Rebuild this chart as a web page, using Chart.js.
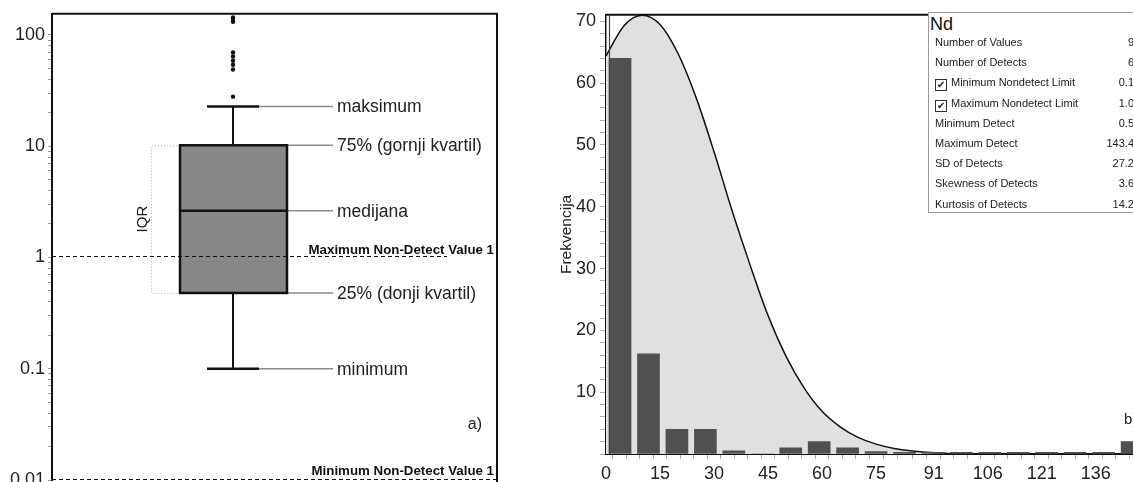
<!DOCTYPE html>
<html>
<head>
<meta charset="utf-8">
<script src="https://cdn.jsdelivr.net/npm/chart.js@4.4.1/dist/chart.umd.min.js"></script>
<style>
    html, body { margin: 0; padding: 0; width: 1133px; height: 482px; overflow: hidden; background: #fff; }
    body { position: relative; font-family: "Liberation Sans", Arial, sans-serif; color: #222; }
    #boxWrap { position: absolute; left: 0; top: 0; width: 515px; height: 500px; }
    #histWrap { position: absolute; left: 540px; top: 0; width: 660px; height: 482px; }
    #stats { position: absolute; left: 928px; top: 12px; width: 260px; height: 199px; border: 1px solid #999; background: #fff; }
    #stats .naslov { font-size: 18px; line-height: 18px; padding: 2px 0 0 1px; height: 17px; color: #111; }
    #stats .red { position: relative; height: 20.2px; line-height: 20.2px; font-size: 11px; padding-left: 6px; white-space: nowrap; }
    #stats .vrijednost { position: absolute; right: 55px; top: 0; }
    #stats .kvacica { display: inline-block; width: 10px; height: 10px; border: 1px solid #333; font-size: 10px; line-height: 10px; text-align: center; vertical-align: -2px; margin-right: 4px; }
</style>
</head>
<body>
<div id="boxWrap"><canvas id="boxChart"></canvas></div>
<div id="histWrap"><canvas id="histChart"></canvas></div>
<div id="stats"></div>

<script>
// --- a) box plot (log scale) ---
const boxStats = [0.1, 0.48, 2.63, 10.2, 22.8];          // min, Q1, median, Q3, max
const boxLabels = ['minimum', '25% (donji kvartil)', 'medijana', '75% (gornji kvartil)', 'maksimum'];
const outlierValues = [27.9, 49, 54, 58.6, 64, 69.5, 131.5, 139, 143.4];
const ndValues = [1, 0.01];
const ndLabels = ['Maximum Non-Detect Value 1', 'Minimum Non-Detect Value 1'];
const logTickValues = [0.01, 0.1, 1, 10, 100];
const logTickLabels = ['0.01', '0.1', '1', '10', '100'];

// --- b) histogram ---
const binCenters = [3.9, 11.8, 19.7, 27.6, 35.5, 43.4, 51.3, 59.2, 67.1, 75.0, 82.9, 90.8, 98.7, 106.6, 114.5, 122.4, 130.3, 138.2, 146.1];
const binCounts = [64, 16.2, 4, 4, 0.5, 0, 1, 2, 1, 0.4, 0.25, 0.25, 0.25, 0.25, 0.25, 0.25, 0.25, 0.25, 2];
const curveX = [0, 5, 10, 15, 20, 25, 30, 35, 40, 45, 50, 55, 60, 65, 70, 75, 80, 85, 90, 95, 100, 110, 160];
const curveY = [64.4, 69.3, 71.0, 69.5, 64.8, 57.7, 48.9, 39.4, 30.6, 22.4, 15.8, 10.7, 6.9, 4.4, 2.7, 1.6, 0.9, 0.5, 0.25, 0.1, 0.03, 0, 0];
const xTickValues = [0, 15, 30, 45, 60, 75, 91, 106, 121, 136];
const xTickLabels = ['0', '15', '30', '45', '60', '75', '91', '106', '121', '136'];
const yTickValues = [10, 20, 30, 40, 50, 60, 70];
const yTickLabels = ['10', '20', '30', '40', '50', '60', '70'];

// --- stats table ---
const statLabels = ['Number of Values', 'Number of Detects', 'Minimum Nondetect Limit', 'Maximum Nondetect Limit',
    'Minimum Detect', 'Maximum Detect', 'SD of Detects', 'Skewness of Detects', 'Kurtosis of Detects'];
const statChecked = [false, false, true, true, false, false, false, false, false];
const statValues = ['9', '6', '0.1', '1.0', '0.5', '143.4', '27.2', '3.6', '14.2'];

const FONT = '"Liberation Sans", Arial, sans-serif';

// layout of the box plot, in x units of the (hidden) 0..445 axis
const BOX_L = 128, BOX_R = 235, BOX_X = 181, CAP_L = 155, CAP_R = 207;
const LEAD_END = 281, LABEL_X = 285, IQR_X = 99, ND_END = 395;

function findLabel(values, labels, v) {
    const i = values.findIndex(t => Math.abs(t - v) <= Math.abs(t) * 1e-6);
    return i >= 0 ? labels[i] : '';
}

/**
 * Box, whiskers, pointers and texts of panel a)
 */
const boxPlugin = {
    id: 'boxPlot',
    beforeDatasetsDraw(chart) {
        const { ctx, chartArea: a, scales: { x, y } } = chart;
        const px = v => x.getPixelForValue(v);
        const py = v => y.getPixelForValue(v);
        const [vMin, vQ1, vMed, vQ3, vMax] = boxStats;

        ctx.save();
        // IQR bracket
        ctx.strokeStyle = '#b4b4b4';
        ctx.lineWidth = 1;
        ctx.setLineDash([1, 2]);
        ctx.beginPath();
        ctx.moveTo(px(BOX_L), py(vQ3) + 0.5);
        ctx.lineTo(px(IQR_X) + 0.5, py(vQ3) + 0.5);
        ctx.lineTo(px(IQR_X) + 0.5, py(vQ1) + 0.5);
        ctx.lineTo(px(BOX_L), py(vQ1) + 0.5);
        ctx.stroke();
        ctx.setLineDash([]);

        ctx.save();
        ctx.translate(px(IQR_X) - 8, (py(vQ3) + py(vQ1)) / 2);
        ctx.rotate(-Math.PI / 2);
        ctx.fillStyle = '#222';
        ctx.font = '15px ' + FONT;
        ctx.textAlign = 'center';
        ctx.textBaseline = 'middle';
        ctx.fillText('IQR', 0, 0);
        ctx.restore();

        // pointer lines to the labels
        ctx.strokeStyle = '#8a8a8a';
        ctx.lineWidth = 1.5;
        boxStats.forEach((v, i) => {
            const start = (i === 0 || i === 4) ? CAP_R : BOX_R;
            ctx.beginPath();
            ctx.moveTo(px(start), py(v));
            ctx.lineTo(px(LEAD_END), py(v));
            ctx.stroke();
        });

        // whiskers
        ctx.strokeStyle = '#111';
        ctx.lineWidth = 2;
        ctx.beginPath();
        ctx.moveTo(px(BOX_X), py(vQ3));
        ctx.lineTo(px(BOX_X), py(vMax));
        ctx.moveTo(px(BOX_X), py(vQ1));
        ctx.lineTo(px(BOX_X), py(vMin));
        ctx.stroke();
        ctx.lineWidth = 2.5;
        ctx.beginPath();
        ctx.moveTo(px(CAP_L), py(vMax));
        ctx.lineTo(px(CAP_R), py(vMax));
        ctx.moveTo(px(CAP_L), py(vMin));
        ctx.lineTo(px(CAP_R), py(vMin));
        ctx.stroke();

        // box
        ctx.fillStyle = '#888888';
        ctx.fillRect(px(BOX_L), py(vQ3), px(BOX_R) - px(BOX_L), py(vQ1) - py(vQ3));
        ctx.lineWidth = 2.5;
        ctx.strokeRect(px(BOX_L), py(vQ3), px(BOX_R) - px(BOX_L), py(vQ1) - py(vQ3));
        ctx.beginPath();
        ctx.moveTo(px(BOX_L), py(vMed));
        ctx.lineTo(px(BOX_R), py(vMed));
        ctx.stroke();

        // non-detect limits
        ctx.strokeStyle = '#111';
        ctx.lineWidth = 1;
        ctx.setLineDash([4, 3]);
        ndValues.forEach((v, i) => {
            const end = i === 0 ? px(ND_END) : a.right;
            const yy = Math.round(py(v)) - 0.5;
            ctx.beginPath();
            ctx.moveTo(a.left, yy);
            ctx.lineTo(end, yy);
            ctx.stroke();
        });
        ctx.setLineDash([]);
        ctx.fillStyle = '#111';
        ctx.font = 'bold 13.3px ' + FONT;
        ctx.textAlign = 'right';
        ctx.textBaseline = 'alphabetic';
        ndValues.forEach((v, i) => {
            ctx.fillText(ndLabels[i], a.right - 3, py(v) - (i === 0 ? 3 : 5));
        });

        // labels
        ctx.fillStyle = '#222';
        ctx.font = '17.5px ' + FONT;
        ctx.textAlign = 'left';
        ctx.textBaseline = 'middle';
        boxStats.forEach((v, i) => ctx.fillText(boxLabels[i], px(LABEL_X), py(v) + 1));

        ctx.font = '16px ' + FONT;
        ctx.textAlign = 'right';
        ctx.fillText('a)', a.right - 15, a.top + 411);

        // frame
        ctx.strokeStyle = '#111';
        ctx.lineWidth = 2;
        ctx.beginPath();
        ctx.moveTo(a.left, a.top);
        ctx.lineTo(a.right, a.top);
        ctx.lineTo(a.right, a.bottom + 10);
        ctx.stroke();
        ctx.restore();
    }
};

/**
 * Frame and caption of panel b)
 */
const histFrame = {
    id: 'histFrame',
    afterDatasetsDraw(chart) {
        const { ctx, chartArea: a } = chart;
        ctx.save();
        ctx.strokeStyle = '#111';
        ctx.lineWidth = 2;
        ctx.beginPath();
        ctx.moveTo(a.left, a.top);
        ctx.lineTo(a.right, a.top);
        ctx.lineTo(a.right, a.bottom);
        ctx.stroke();
        ctx.strokeStyle = '#444';
        ctx.lineWidth = 1.2;
        ctx.beginPath();
        ctx.moveTo(a.left + 3.5, a.top);
        ctx.lineTo(a.left + 3.5, a.bottom);
        ctx.stroke();
        ctx.fillStyle = '#222';
        ctx.font = '15px ' + FONT;
        ctx.textAlign = 'left';
        ctx.textBaseline = 'middle';
        ctx.fillText('b)', 1124 - 540, 420);
        ctx.restore();
    }
};

function renderBoxChart() {
    const minorTicks = [];
    logTickValues.forEach(d => {
        for (let m = 1; m <= 9; m++) {
            const v = +(d * m).toPrecision(4);
            if (v <= 155) minorTicks.push(v);
        }
    });

    const ctx = document.getElementById('boxChart').getContext('2d');
    return new Chart(ctx, {
        type: 'scatter',
        data: {
            datasets: [{
                data: outlierValues.map(v => ({ x: BOX_X, y: v })),
                pointRadius: 2.2,
                backgroundColor: '#111',
                borderWidth: 0
            }]
        },
        options: {
            animation: false, responsive: true, maintainAspectRatio: false,
            layout: { padding: { left: 0, top: 11, right: 18, bottom: 20 } },
            plugins: { legend: { display: false }, tooltip: { enabled: false } },
            scales: {
                x: { type: 'linear', min: 0, max: 445, display: false },
                y: {
                    type: 'logarithmic', min: 0.01, max: 155,
                    afterFit: s => { s.width = 52; },
                    afterBuildTicks: s => { s.ticks = minorTicks.map(v => ({ value: v })); },
                    ticks: {
                        autoSkip: false, padding: 3, color: '#222',
                        font: { family: FONT, size: 18 },
                        callback: v => findLabel(logTickValues, logTickLabels, v)
                    },
                    grid: { drawOnChartArea: false, tickLength: 4, color: '#999' },
                    border: { color: '#111', width: 2 }
                }
            }
        },
        plugins: [boxPlugin]
    });
}

function renderHistChart() {
    const xTicks = [];
    for (let i = 0; i < xTickValues.length; i++) {
        const a = xTickValues[i];
        const b = i + 1 < xTickValues.length ? xTickValues[i + 1] : a + 15;
        for (let k = 0; k < 4; k++) xTicks.push(a + (b - a) * k / 4);
    }
    const yTicks = [];
    for (let v = 0; v <= 70; v += 2) yTicks.push(v);

    const ctx = document.getElementById('histChart').getContext('2d');
    return new Chart(ctx, {
        type: 'bar',
        data: {
            datasets: [{
                type: 'bar',
                data: binCenters.map((c, i) => ({ x: c, y: binCounts[i] })),
                backgroundColor: '#505050',
                barThickness: 22,
                order: 1
            }, {
                type: 'line',
                data: curveX.map((x, i) => ({ x: x, y: curveY[i] })),
                fill: 'origin',
                backgroundColor: '#e0e0e0',
                borderColor: '#111',
                borderWidth: 1.5,
                pointRadius: 0,
                cubicInterpolationMode: 'monotone',
                order: 2
            }]
        },
        options: {
            animation: false, responsive: true, maintainAspectRatio: false,
            layout: { padding: { left: 0, top: 12, right: 20, bottom: 0 } },
            plugins: { legend: { display: false }, tooltip: { enabled: false } },
            scales: {
                x: {
                    type: 'linear', min: 0, max: 159.4, offset: false,
                    afterFit: s => { s.height = 28; },
                    afterBuildTicks: s => { s.ticks = xTicks.map(v => ({ value: v })); },
                    ticks: {
                        autoSkip: false, maxRotation: 0, padding: 4, color: '#222',
                        font: { family: FONT, size: 18 },
                        callback: v => findLabel(xTickValues, xTickLabels, v)
                    },
                    grid: { drawOnChartArea: false, tickLength: 5, color: '#aaa' },
                    border: { color: '#111', width: 2 }
                },
                y: {
                    min: 0, max: 71.06,
                    afterFit: s => { s.width = 66; },
                    afterBuildTicks: s => { s.ticks = yTicks.map(v => ({ value: v })); },
                    ticks: {
                        autoSkip: false, padding: 4, color: '#222',
                        font: { family: FONT, size: 18 },
                        callback: v => findLabel(yTickValues, yTickLabels, v)
                    },
                    title: { display: true, text: 'Frekvencija', color: '#222', font: { family: FONT, size: 15.5 }, padding: { top: 17, bottom: 0 } },
                    grid: { drawOnChartArea: false, tickLength: 6, color: '#aaa' },
                    border: { color: '#111', width: 1.5 }
                }
            }
        },
        plugins: [histFrame]
    });
}

function renderStats() {
    const box = document.getElementById('stats');
    let html = '<div class="naslov">Nd</div>';
    statLabels.forEach((label, i) => {
        const check = statChecked[i] ? '<span class="kvacica">&#10004;</span>' : '';
        html += '<div class="red">' + check + label + '<span class="vrijednost">' + statValues[i] + '</span></div>';
    });
    box.innerHTML = html;
}

renderBoxChart();
renderHistChart();
renderStats();
</script>
</body>
</html>
